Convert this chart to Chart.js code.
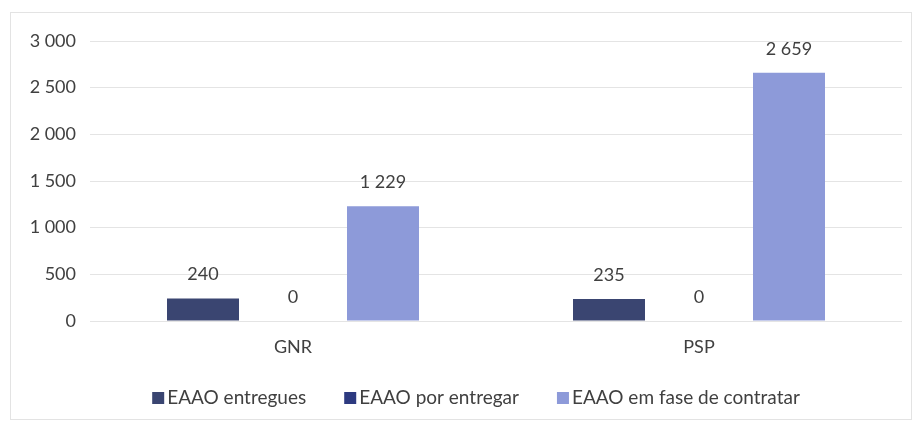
<!DOCTYPE html>
<html>
<head>
<meta charset="utf-8">
<script src="https://cdn.jsdelivr.net/npm/chart.js@4"></script>
<style>
  html, body { margin: 0; padding: 0; background: #ffffff; }
  #wrap { position: absolute; left: 0; top: 0; width: 917px; height: 425px; }
</style>
</head>
<body>
<div id="wrap"><canvas id="c" width="917" height="425"></canvas></div>
<script>
const categories = ['GNR', 'PSP'];
const seriesNames = ['EAAO entregues', 'EAAO por entregar', 'EAAO em fase de contratar'];
const entregues = [240, 235];
const porEntregar = [0, 0];
const emFaseDeContratar = [1229, 2659];
const yTicks = [0, 500, 1000, 1500, 2000, 2500, 3000];

const colors = ['#3a4571', '#2d3a80', '#8d9ad9'];
const textColor = '#404040';
const fontFamily = 'Lato, "Open Sans", sans-serif';

function fmt(v) {
  return String(v).replace(/\B(?=(\d{3})+(?!\d))/g, ' ');
}

const framePlugin = {
  id: 'frame',
  beforeDraw(chart) {
    const ctx = chart.ctx;
    ctx.save();
    ctx.fillStyle = '#ffffff';
    ctx.fillRect(0, 0, chart.width, chart.height);
    ctx.strokeStyle = '#e3e3e3';
    ctx.lineWidth = 1;
    ctx.strokeRect(10.5, 12.5, 901, 407);
    ctx.restore();
  }
};

const valueLabels = {
  id: 'valueLabels',
  afterDatasetsDraw(chart) {
    const ctx = chart.ctx;
    ctx.save();
    ctx.font = '18px ' + fontFamily;
    ctx.fillStyle = textColor;
    ctx.textAlign = 'center';
    ctx.textBaseline = 'middle';
    chart.data.datasets.forEach((ds, i) => {
      const meta = chart.getDatasetMeta(i);
      meta.data.forEach((bar, j) => {
        ctx.fillText(fmt(ds.data[j]), bar.x, bar.y - 24);
      });
    });
    ctx.restore();
  }
};

// Legend drawn in the style of the source: small square, tight gap, wide spacing
const customLegend = {
  id: 'customLegend',
  afterDraw(chart) {
    const ctx = chart.ctx;
    const box = 12, boxGap = 3, itemGap = 38;
    ctx.save();
    ctx.font = '19px ' + fontFamily;
    const widths = chart.data.datasets.map(ds => box + boxGap + ctx.measureText(ds.label).width);
    const total = widths.reduce((a, b) => a + b, 0) + itemGap * (widths.length - 1);
    const center = (chart.chartArea.left + chart.chartArea.right) / 2 - 20;
    let x = center - total / 2;
    const y = 398;
    ctx.textBaseline = 'middle';
    ctx.textAlign = 'left';
    chart.data.datasets.forEach((ds, i) => {
      ctx.fillStyle = ds.backgroundColor;
      ctx.fillRect(x, y - box / 2, box, box);
      ctx.fillStyle = textColor;
      ctx.fillText(ds.label, x + box + boxGap, y);
      x += widths[i] + itemGap;
    });
    ctx.restore();
  }
};

new Chart(document.getElementById('c'), {
  type: 'bar',
  data: {
    labels: categories,
    datasets: [
      { label: seriesNames[0], data: entregues, backgroundColor: colors[0] },
      { label: seriesNames[1], data: porEntregar, backgroundColor: colors[1] },
      { label: seriesNames[2], data: emFaseDeContratar, backgroundColor: colors[2] }
    ]
  },
  options: {
    responsive: false,
    animation: false,
    devicePixelRatio: 1,
    layout: { padding: { left: 22, right: 15, top: 41, bottom: 67 } },
    datasets: { bar: { categoryPercentage: 0.665, barPercentage: 0.8 } },
    scales: {
      x: {
        grid: { display: false, drawTicks: false },
        border: { display: false },
        ticks: { color: textColor, font: { family: fontFamily, size: 18 }, padding: 15 },
        afterFit(scale) { scale.height = 37; }
      },
      y: {
        min: 0,
        max: 3000,
        afterFit(scale) { scale.width = 68; },
        afterBuildTicks(scale) { scale.ticks = yTicks.map(v => ({ value: v })); },
        grid: { color: '#e4e4e4', drawTicks: false },
        border: { display: false },
        ticks: {
          color: textColor,
          font: { family: fontFamily, size: 18 },
          padding: 14,
          callback: (v) => fmt(v)
        }
      }
    },
    plugins: {
      legend: { display: false },
      tooltip: { enabled: false }
    }
  },
  plugins: [framePlugin, valueLabels, customLegend]
});
</script>
</body>
</html>
